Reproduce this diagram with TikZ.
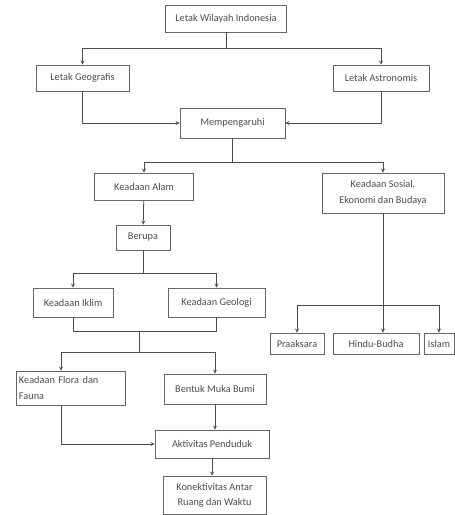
\documentclass[tikz,border=0pt]{standalone}
\usepackage{fontspec}
\setmainfont{Carlito}
\usetikzlibrary{calc}
\begin{document}
\begin{tikzpicture}[x=1pt,y=-1pt,
    box/.style={draw=black!60,line width=0.8pt,text=black!70,inner sep=2pt,
      font=\fontsize{10.3}{16}\selectfont,align=center},
    line/.style={draw=black!70,line width=0.8pt},
    >=stealth]
    \useasboundingbox (0,0) rectangle (455,515);
    % boxes
    \node[box,minimum width=121pt,minimum height=27pt] (wil) at (226,18.5) {Letak Wilayah Indonesia};
    \node[box,minimum width=93pt,minimum height=26pt] (geo) at (82.5,78) {Letak Geografis};
    \node[box,minimum width=96pt,minimum height=26pt] (astro) at (381,78) {Letak Astronomis};
    \node[box,minimum width=105pt,minimum height=30pt] (pengaruh) at (232.5,123) {Mempengaruhi};
    \node[box,minimum width=99pt,minimum height=27pt] (alam) at (144,186.5) {Keadaan Alam};
    \node[box,minimum width=122pt,minimum height=40pt] (sosial) at (383,193) {Keadaan Sosial,\\Ekonomi dan Budaya};
    \node[box,minimum width=54pt,minimum height=25pt] (berupa) at (143,237.5) {Berupa};
    \node[box,minimum width=80pt,minimum height=29pt] (iklim) at (73,302.5) {Keadaan Iklim};
    \node[box,minimum width=97pt,minimum height=29pt] (geologi) at (216.5,302.5) {Keadaan Geologi};
    \node[box,minimum width=109pt,minimum height=34pt,align=left,text width=103pt] (flora) at (70.5,388) {Keadaan Flora dan\\Fauna};
    \node[box,minimum width=102pt,minimum height=30pt] (bentuk) at (215,389) {Bentuk Muka Bumi};
    \node[box,minimum width=114pt,minimum height=28pt] (aktivitas) at (212,444) {Aktivitas Penduduk};
    \node[box,minimum width=103pt,minimum height=38pt,font=\fontsize{10.3}{15}\selectfont] (konek) at (214.5,495) {Konektivitas Antar\\Ruang dan Waktu};
    \node[box,minimum width=54pt,minimum height=21pt] (pra) at (297,343.5) {Praaksara};
    \node[box,minimum width=86pt,minimum height=21pt] (hindu) at (376,343.5) {Hindu-Budha};
    \node[box,minimum width=30pt,minimum height=21pt] (islam) at (439,343.5) {Islam};
    % joints
    \coordinate (j1) at (226,48);
    \coordinate (j2) at (232.5,162);
    \coordinate (j3) at (143,273);
    \coordinate (j4) at (139,331);
    \coordinate (j5) at (139,352);
    \coordinate (j6) at (383,305);
    % connectors
    \draw[line] (wil) -- (j1);
    \draw[line,->] (j1) -| (geo);
    \draw[line,->] (j1) -| (astro);
    \draw[line,->] (geo) |- (pengaruh);
    \draw[line,->] (astro) |- (pengaruh);
    \draw[line] (pengaruh) -- (j2);
    \draw[line,->] (j2) -| (alam);
    \draw[line,->] (j2) -| (sosial);
    \draw[line,->] (alam) -- (berupa);
    \draw[line] (berupa) -- (j3);
    \draw[line,->] (j3) -| (iklim);
    \draw[line,->] (j3) -| (geologi);
    \draw[line] (iklim.south) |- (j4);
    \draw[line] (geologi.south) |- (j4);
    \draw[line] (j4) -- (j5);
    \draw[line,->] (j5) -| ([xshift=-9.5pt]flora.north);
    \draw[line,->] (j5) -| (bentuk);
    \draw[line,->] (bentuk.south) -- (bentuk.south |- aktivitas.north);
    \draw[line,->] ([xshift=-9.5pt]flora.south) |- (aktivitas);
    \draw[line,->] (aktivitas.south) -- (aktivitas.south |- konek.north);
    \draw[line,->] (sosial) -- (sosial |- hindu.north);
    \draw[line,->] (j6) -| (pra);
    \draw[line,->] (j6) -| (islam);
\end{tikzpicture}
\end{document}
